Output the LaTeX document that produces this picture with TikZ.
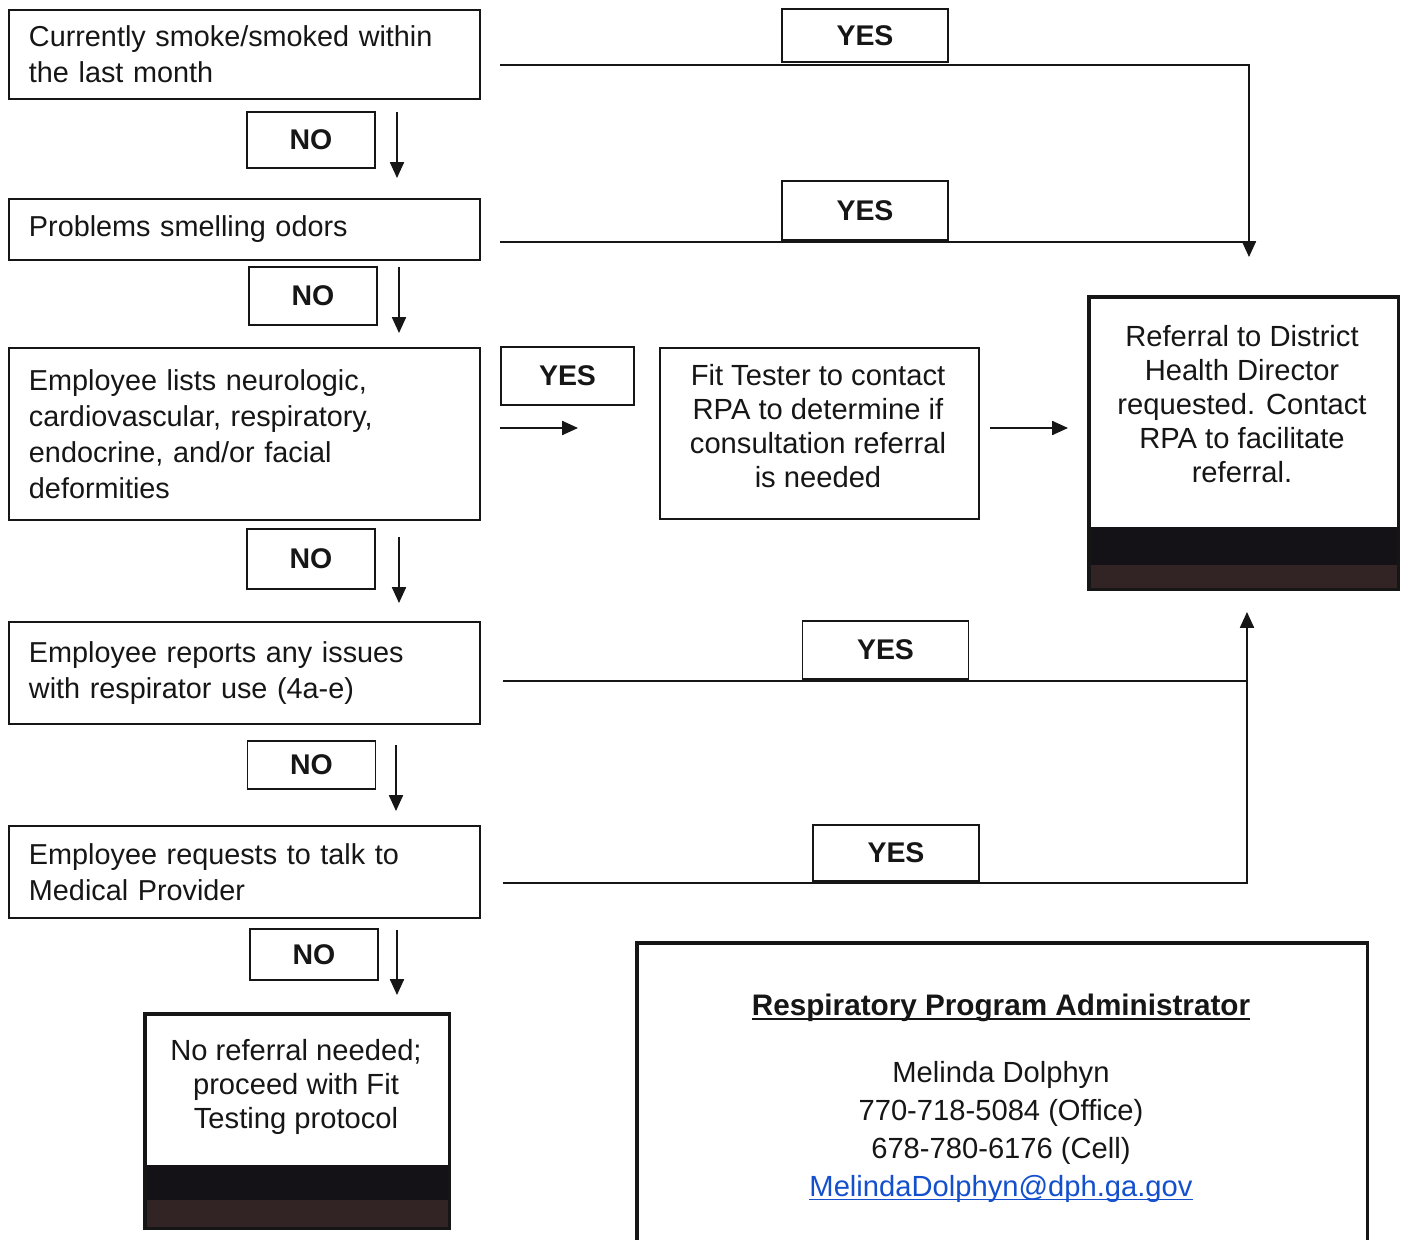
\documentclass[tikz,border=0pt]{standalone}
\usepackage{fontspec}
\setmainfont{Liberation Sans}
\usetikzlibrary{arrows.meta,calc}
\definecolor{linkblue}{RGB}{20,80,205}
\definecolor{bandblack}{RGB}{20,18,22}
\definecolor{bandbrown}{RGB}{50,36,36}
\definecolor{ink}{RGB}{22,22,22}
\newcommand\myul[1]{\setbox0\hbox{#1}\rlap{\rule[-2.4pt]{\wd0}{0.9pt}}\box0}
\begin{document}
\begin{tikzpicture}[x=0.02cm,y=-0.02cm,
  every node/.style={font=\fontsize{16.4}{20.4}\selectfont, text=ink},
  qbox/.style={draw=ink, line width=1.1pt, anchor=north west, minimum width=9.42cm,
    text width=8.62cm, inner xsep=0.4cm, align=left},
  nolabel/.style={draw=ink, line width=1.1pt, minimum width=2.56cm,
    font=\bfseries\fontsize{16.2}{19}\selectfont},
  yeslabel/.style={draw=ink, line width=1.1pt, minimum width=3.32cm,
    font=\bfseries\fontsize{16.2}{19}\selectfont},
  flow/.style={draw=ink, line width=0.9pt},
  tip/.style={-{Triangle[length=9pt,width=8pt]}},
  endbox/.style={draw=ink, line width=2pt, anchor=north west},
  ctext/.style={align=center, font=\fontsize{16.6}{19.3}\selectfont},
]
\useasboundingbox[fill=white] (0,0) rectangle (1401,1240);

% question boxes
\node[qbox, minimum height=1.78cm] (q1) at (8,9) {Currently smoke/smoked within\\the last month};
\node[qbox, minimum height=1.22cm] (q2) at (8,198) {Problems smelling odors};
\node[qbox, minimum height=3.44cm] (q3) at (8,347) {Employee lists neurologic,\\cardiovascular, respiratory,\\endocrine, and/or facial\\deformities};
\node[qbox, minimum height=2.04cm] (q4) at (8,621) {Employee reports any issues\\with respirator use (4a-e)};
\node[qbox, minimum height=1.84cm] (q5) at (8,825) {Employee requests to talk to\\Medical Provider};

% NO labels
\node[nolabel, minimum height=1.12cm] (no1) at (311,140) {NO};
\node[nolabel, minimum height=1.16cm] (no2) at (313,296) {NO};
\node[nolabel, minimum height=1.20cm] (no3) at (311,559) {NO};
\node[nolabel, minimum height=0.96cm] (no4) at (311.5,765) {NO};
\node[nolabel, minimum height=1.02cm] (no5) at (314,954.5) {NO};

% YES labels
\node[yeslabel, minimum height=1.06cm] (yes1) at (865,35.5) {YES};
\node[yeslabel, minimum height=1.18cm] (yes2) at (865,210.5) {YES};
\node[yeslabel, minimum width=2.66cm, minimum height=1.16cm] (yes3) at (567.5,376) {YES};
\node[yeslabel, minimum height=1.16cm] (yes4) at (885.5,650) {YES};
\node[yeslabel, minimum height=1.12cm] (yes5) at (896,853) {YES};

% fit tester box
\node[draw=ink, line width=1.1pt, anchor=north west, minimum width=6.38cm, minimum height=3.42cm] (fit) at (659,347) {};
\node[ctext] (fittext) at (818,426) {Fit Tester to contact\\RPA to determine if\\consultation referral\\is needed};

% referral box
\fill[bandblack] (1087,527) rectangle (1397,565);
\fill[bandbrown] (1087,565) rectangle (1397,588);
\node[endbox, minimum width=6.2cm, minimum height=5.86cm] (ref) at (1087,295) {};
\node[ctext] (reftext) at (1242,404) {Referral to District\\Health Director\\requested. Contact\\RPA to facilitate\\referral.};

% no referral box
\fill[bandblack] (143,1165) rectangle (448,1200);
\fill[bandbrown] (143,1200) rectangle (448,1227);
\node[endbox, minimum width=6.1cm, minimum height=4.3cm] (noref) at (143,1012) {};
\node[ctext] (noreftext) at (296,1087) {No referral needed;\\proceed with Fit\\Testing protocol};

% RPA box
\node[endbox, minimum width=14.62cm, minimum height=6.4cm] (rpa) at (635,941) {};
\node[font=\bfseries\fontsize{16.9}{19}\selectfont] (rpatitle) at (1001,1008) {\myul{Respiratory Program Administrator}};
\node[align=center, font=\fontsize{16.6}{21.5}\selectfont] (rpainfo) at (1001,1132) {Melinda Dolphyn\\770-718-5084 (Office)\\678-780-6176 (Cell)\\\textcolor{linkblue}{\myul{MelindaDolphyn@dph.ga.gov}}};

% NO arrows
\coordinate (a1s) at (397,112); \coordinate (a1e) at (397,178);
\coordinate (a2s) at (399,267); \coordinate (a2e) at (399,333);
\coordinate (a3s) at (399,537); \coordinate (a3e) at (399,603);
\coordinate (a4s) at (396,745); \coordinate (a4e) at (396,811);
\coordinate (a5s) at (397,930); \coordinate (a5e) at (397,995);
\draw[flow,tip] (a1s) -- (a1e);
\draw[flow,tip] (a2s) -- (a2e);
\draw[flow,tip] (a3s) -- (a3e);
\draw[flow,tip] (a4s) -- (a4e);
\draw[flow,tip] (a5s) -- (a5e);

% YES connectors
\coordinate (y1s) at (500,65); \coordinate (y1c) at (1249,65); \coordinate (y1e) at (1249,257);
\draw[flow,tip] (y1s) -- (y1c) -- (y1e);
\coordinate (y2s) at (500,242);
\draw[flow] (y2s) -- (y2s -| y1c);
\coordinate (y3s) at (500,428); \coordinate (y3e) at (578,428);
\draw[flow,tip] (y3s) -- (y3e);
\coordinate (f1s) at (990,428); \coordinate (f1e) at (1068,428);
\draw[flow,tip] (f1s) -- (f1e);
\coordinate (y5s) at (503,883); \coordinate (y5c) at (1247,883); \coordinate (y5e) at (1247,612);
\draw[flow,tip] (y5s) -- (y5c) -- (y5e);
\coordinate (y4s) at (503,681);
\draw[flow] (y4s) -- (y4s -| y5c);
\end{tikzpicture}
\end{document}
